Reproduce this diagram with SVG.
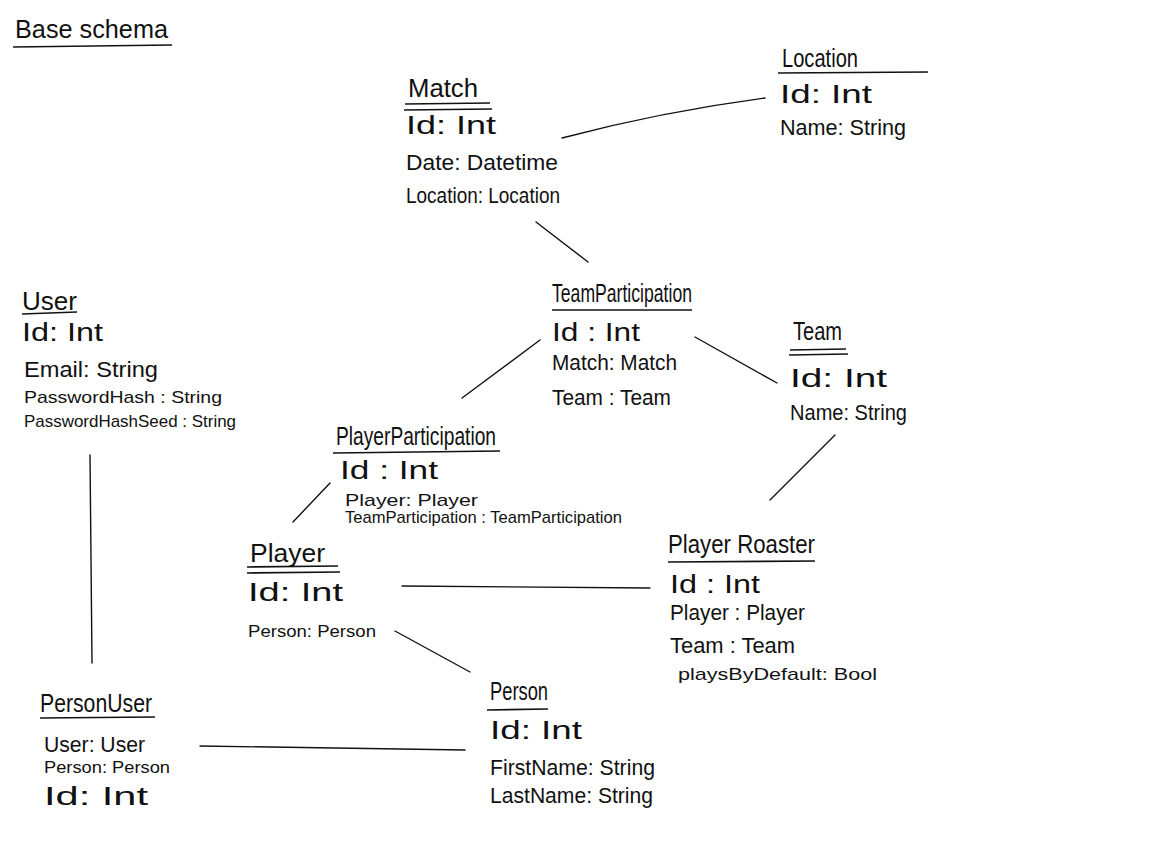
<svg xmlns="http://www.w3.org/2000/svg" width="1169" height="850" viewBox="0 0 1169 850">
<style>
text{font-family:"Liberation Sans","DejaVu Sans",sans-serif;fill:#111;}
.t{font-size:25px;}
.a{font-size:22px;}
.i{font-size:26px;}
.s{font-size:17px;}
.u{stroke:#111;stroke-width:1.6;fill:none;}
.c{stroke:#111;stroke-width:1.4;fill:none;stroke-linecap:round;}
</style>
<rect width="1169" height="850" fill="#fff"/>
<g id="title">
<text class="t" x="15" y="38" textLength="153" lengthAdjust="spacingAndGlyphs">Base schema</text>
<line class="u" x1="13" y1="47" x2="172" y2="45"/>
</g>
<g id="match">
<text class="t" x="408" y="97" textLength="70" lengthAdjust="spacingAndGlyphs">Match</text>
<line class="u" x1="405" y1="104" x2="490" y2="103"/>
<line class="u" x1="404" y1="110" x2="492" y2="109"/>
<text class="i" x="406" y="134" textLength="90" lengthAdjust="spacingAndGlyphs">Id: Int</text>
<text class="a" x="406" y="170" textLength="152" lengthAdjust="spacingAndGlyphs">Date: Datetime</text>
<text class="a" x="406" y="203" textLength="154" lengthAdjust="spacingAndGlyphs">Location: Location</text>
</g>
<g id="location">
<text class="t" x="782" y="67" textLength="76" lengthAdjust="spacingAndGlyphs">Location</text>
<line class="u" x1="778" y1="73" x2="928" y2="72"/>
<text class="i" x="780" y="103" textLength="92" lengthAdjust="spacingAndGlyphs">Id: Int</text>
<text class="a" x="780" y="135" textLength="126" lengthAdjust="spacingAndGlyphs">Name: String</text>
</g>
<g id="user">
<text class="t" x="22" y="310" textLength="55" lengthAdjust="spacingAndGlyphs">User</text>
<line class="u" x1="22" y1="314" x2="77" y2="312"/>
<text class="i" x="22" y="341" textLength="81" lengthAdjust="spacingAndGlyphs">Id: Int</text>
<text class="a" x="24" y="377" textLength="134" lengthAdjust="spacingAndGlyphs">Email: String</text>
<text class="s" x="24" y="403" textLength="198" lengthAdjust="spacingAndGlyphs">PasswordHash : String</text>
<text class="s" x="24" y="427" textLength="212" lengthAdjust="spacingAndGlyphs">PasswordHashSeed : String</text>
</g>
<g id="teamparticipation">
<text class="t" x="552" y="302" textLength="140" lengthAdjust="spacingAndGlyphs">TeamParticipation</text>
<line class="u" x1="552" y1="310" x2="692" y2="310"/>
<text class="i" x="552" y="341" textLength="88" lengthAdjust="spacingAndGlyphs">Id : Int</text>
<text class="a" x="552" y="370" textLength="125" lengthAdjust="spacingAndGlyphs">Match: Match</text>
<text class="a" x="552" y="405" textLength="119" lengthAdjust="spacingAndGlyphs">Team : Team</text>
</g>
<g id="team">
<text class="t" x="793" y="340" textLength="49" lengthAdjust="spacingAndGlyphs">Team</text>
<line class="u" x1="790" y1="350" x2="846" y2="349"/>
<line class="u" x1="789" y1="355" x2="848" y2="354"/>
<text class="i" x="790" y="387" textLength="97" lengthAdjust="spacingAndGlyphs">Id: Int</text>
<text class="a" x="790" y="420" textLength="117" lengthAdjust="spacingAndGlyphs">Name: String</text>
</g>
<g id="playerparticipation">
<text class="t" x="336" y="445" textLength="160" lengthAdjust="spacingAndGlyphs">PlayerParticipation</text>
<line class="u" x1="333" y1="453" x2="500" y2="451"/>
<text class="i" x="340" y="479" textLength="98" lengthAdjust="spacingAndGlyphs">Id : Int</text>
<text class="s" x="345" y="506" textLength="133" lengthAdjust="spacingAndGlyphs">Player: Player</text>
<text class="s" x="345" y="523" textLength="277" lengthAdjust="spacingAndGlyphs">TeamParticipation : TeamParticipation</text>
</g>
<g id="player">
<text class="t" x="250" y="562" textLength="75" lengthAdjust="spacingAndGlyphs">Player</text>
<line class="u" x1="247" y1="567" x2="338" y2="566"/>
<line class="u" x1="247" y1="573" x2="340" y2="572"/>
<text class="i" x="248" y="601" textLength="95" lengthAdjust="spacingAndGlyphs">Id: Int</text>
<text class="s" x="248" y="637" textLength="128" lengthAdjust="spacingAndGlyphs">Person: Person</text>
</g>
<g id="playerroaster">
<text class="t" x="668" y="553" textLength="147" lengthAdjust="spacingAndGlyphs">Player Roaster</text>
<line class="u" x1="668" y1="562" x2="815" y2="561"/>
<text class="i" x="670" y="593" textLength="90" lengthAdjust="spacingAndGlyphs">Id : Int</text>
<text class="a" x="670" y="620" textLength="135" lengthAdjust="spacingAndGlyphs">Player : Player</text>
<text class="a" x="670" y="653" textLength="125" lengthAdjust="spacingAndGlyphs">Team : Team</text>
<text class="s" x="678" y="680" textLength="199" lengthAdjust="spacingAndGlyphs">playsByDefault: Bool</text>
</g>
<g id="personuser">
<text class="t" x="40" y="712" textLength="112" lengthAdjust="spacingAndGlyphs">PersonUser</text>
<line class="u" x1="40" y1="718" x2="155" y2="717"/>
<text class="a" x="44" y="752" textLength="101" lengthAdjust="spacingAndGlyphs">User: User</text>
<text class="s" x="44" y="773" textLength="126" lengthAdjust="spacingAndGlyphs">Person: Person</text>
<text class="i" x="44" y="805" textLength="104" lengthAdjust="spacingAndGlyphs">Id: Int</text>
</g>
<g id="person">
<text class="t" x="490" y="700" textLength="58" lengthAdjust="spacingAndGlyphs">Person</text>
<line class="u" x1="487" y1="710" x2="548" y2="709"/>
<text class="i" x="490" y="739" textLength="92" lengthAdjust="spacingAndGlyphs">Id: Int</text>
<text class="a" x="490" y="775" textLength="165" lengthAdjust="spacingAndGlyphs">FirstName: String</text>
<text class="a" x="490" y="803" textLength="163" lengthAdjust="spacingAndGlyphs">LastName: String</text>
</g>
<g id="connectors">
<path class="c" d="M562,138 Q660,112 765,98"/>
<line class="c" x1="536" y1="222" x2="588" y2="262"/>
<line class="c" x1="540" y1="340" x2="462" y2="398"/>
<line class="c" x1="695" y1="337" x2="777" y2="383"/>
<line class="c" x1="835" y1="435" x2="770" y2="500"/>
<line class="c" x1="330" y1="483" x2="293" y2="522"/>
<line class="c" x1="402" y1="586" x2="650" y2="588"/>
<line class="c" x1="395" y1="631" x2="470" y2="672"/>
<line class="c" x1="90" y1="455" x2="92" y2="663"/>
<line class="c" x1="200" y1="746" x2="465" y2="750"/>
</g>
</svg>
